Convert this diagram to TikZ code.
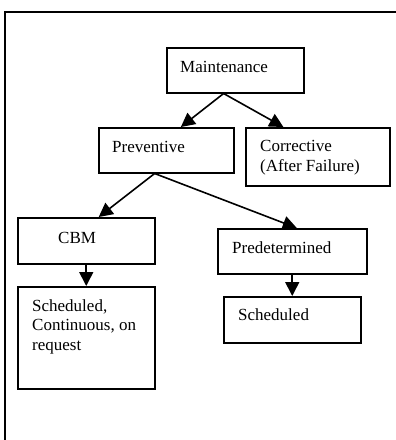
\documentclass[tikz,border=0pt]{standalone}
\usepackage{fontspec}
\setmainfont{Liberation Serif}
\usetikzlibrary{arrows.meta,calc}
\begin{document}
\begin{tikzpicture}[x=1pt,y=-1pt,
  box/.style={draw,line width=1.5pt,inner sep=0pt,anchor=north west},
  lbl/.style={inner sep=0pt,font=\fontsize{17}{19.5}\selectfont},
  arr/.style={line width=1.6pt,-{Triangle[length=14pt,width=14pt]}}]
\useasboundingbox (0,0) rectangle (396,440);
% partial frame: top and left rules
\draw[line width=1.6pt] (5,440) -- (5,12) -- (396,12);

% boxes
\node[box,minimum width=137pt,minimum height=45pt] (m) at (166,47) {};
\node[box,minimum width=135pt,minimum height=45pt] (p) at (98,127) {};
\node[box,minimum width=144pt,minimum height=58pt] (c) at (245,127) {};
\node[box,minimum width=137pt,minimum height=46pt] (cbm) at (17,217) {};
\node[box,minimum width=149pt,minimum height=45pt] (pd) at (217,228) {};
\node[box,minimum width=137pt,minimum height=102pt] (s1) at (17,286) {};
\node[box,minimum width=137pt,minimum height=46pt] (s2) at (223,296) {};

% labels
\node[lbl,anchor=base west] (tm) at (180,72) {Maintenance};
\node[lbl,anchor=base west] (tp) at (112,152) {Preventive};
\node[lbl,anchor=north west,align=left] (tc) at (260,140.5) {Corrective\\(After Failure)};
\node[lbl,anchor=base west] (tcbm) at (58,243) {CBM};
\node[lbl,anchor=base west] (tpd) at (232,253) {Predetermined};
\node[lbl,anchor=north west,align=left] (ts1) at (32,299.3) {Scheduled,\\Continuous, on\\request};
\node[lbl,anchor=base west] (ts2) at (238,320) {Scheduled};

% connectors
\draw[arr] ($(m.south west)!0.416!(m.south east)$) -- ($(p.north west)!0.607!(p.north east)$);
\draw[arr] ($(m.south west)!0.416!(m.south east)$) -- ($(c.north west)!0.264!(c.north east)$);
\draw[arr] ($(p.south west)!0.415!(p.south east)$) -- ($(cbm.north west)!0.59!(cbm.north east)$);
\draw[arr] ($(p.south west)!0.415!(p.south east)$) -- ($(pd.north west)!0.53!(pd.north east)$);
\draw[arr] (cbm.south) -- (s1.north);
\draw[arr] (pd.south) -- (s2.north);
\end{tikzpicture}
\end{document}
